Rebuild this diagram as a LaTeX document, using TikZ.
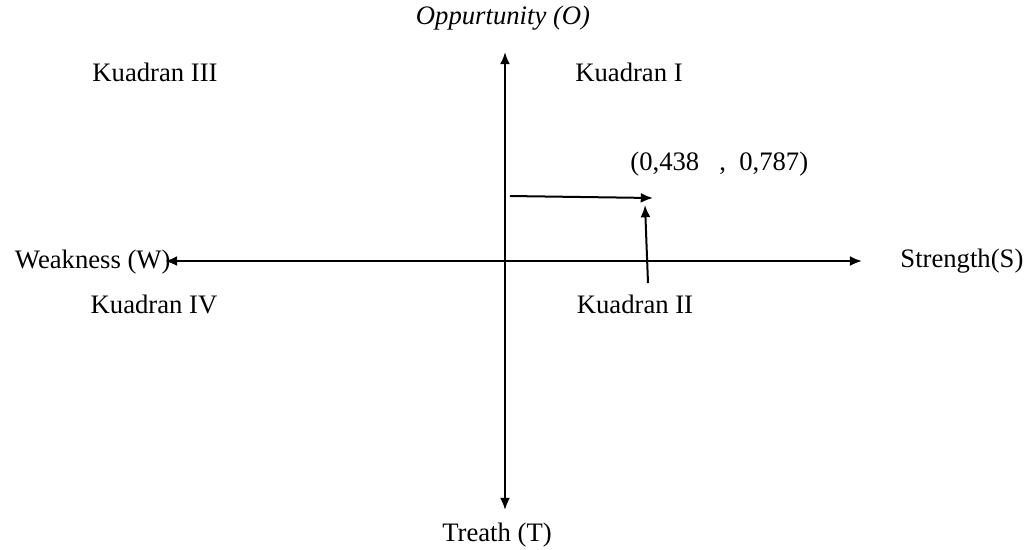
\documentclass[tikz,border=0pt]{standalone}
\usepackage{fontspec}
\setmainfont{Liberation Serif}
\usepackage{tikz}
\usetikzlibrary{arrows.meta}

\begin{document}
\begin{tikzpicture}[x=0.45pt, y=-0.45pt, font=\fontsize{12}{14}\selectfont,
    axis/.style={line width=0.9pt, {Latex[length=5.5pt,width=4.5pt]}-{Latex[length=5.5pt,width=4.5pt]}},
    pointer/.style={line width=0.9pt, -{Latex[length=5.5pt,width=4.5pt]}}]
    \useasboundingbox (0,0) rectangle (1029,549);
    % Nodes
    \node (O) at (503,18) {\itshape Oppurtunity (O)};
    \node (T) at (497,535) {Treath (T)};
    \node[anchor=east, inner sep=0pt] (W) at (171,262) {Weakness (W)};
    \node[anchor=west, inner sep=0pt] (S) at (900,261) {Strength(S)};
    \node (K1) at (629,72) {Kuadran I};
    \node (K2) at (635,304) {Kuadran II};
    \node (K3) at (155,72) {Kuadran III};
    \node (K4) at (154,304) {Kuadran IV};
    \node[anchor=west, inner sep=0pt] (P) at (630,164) {(0,438\ \ \ ,\ \ 0,787)};
    % Axis ends
    \coordinate (top) at (505,52);
    \coordinate (bottom) at (505,510);
    \coordinate (left) at (165,261);
    \coordinate (right) at (862,261);
    % Point
    \coordinate (h0) at (510,196);
    \coordinate (h1) at (653,198);
    \coordinate (v0) at (648,283);
    \coordinate (v1) at (645,205);
    % Edges
    \draw[axis] (top) -- (bottom);
    \draw[axis] (left) -- (right);
    \draw[pointer] (h0) -- (h1);
    \draw[pointer] (v0) -- (v1);
\end{tikzpicture}
\end{document}
